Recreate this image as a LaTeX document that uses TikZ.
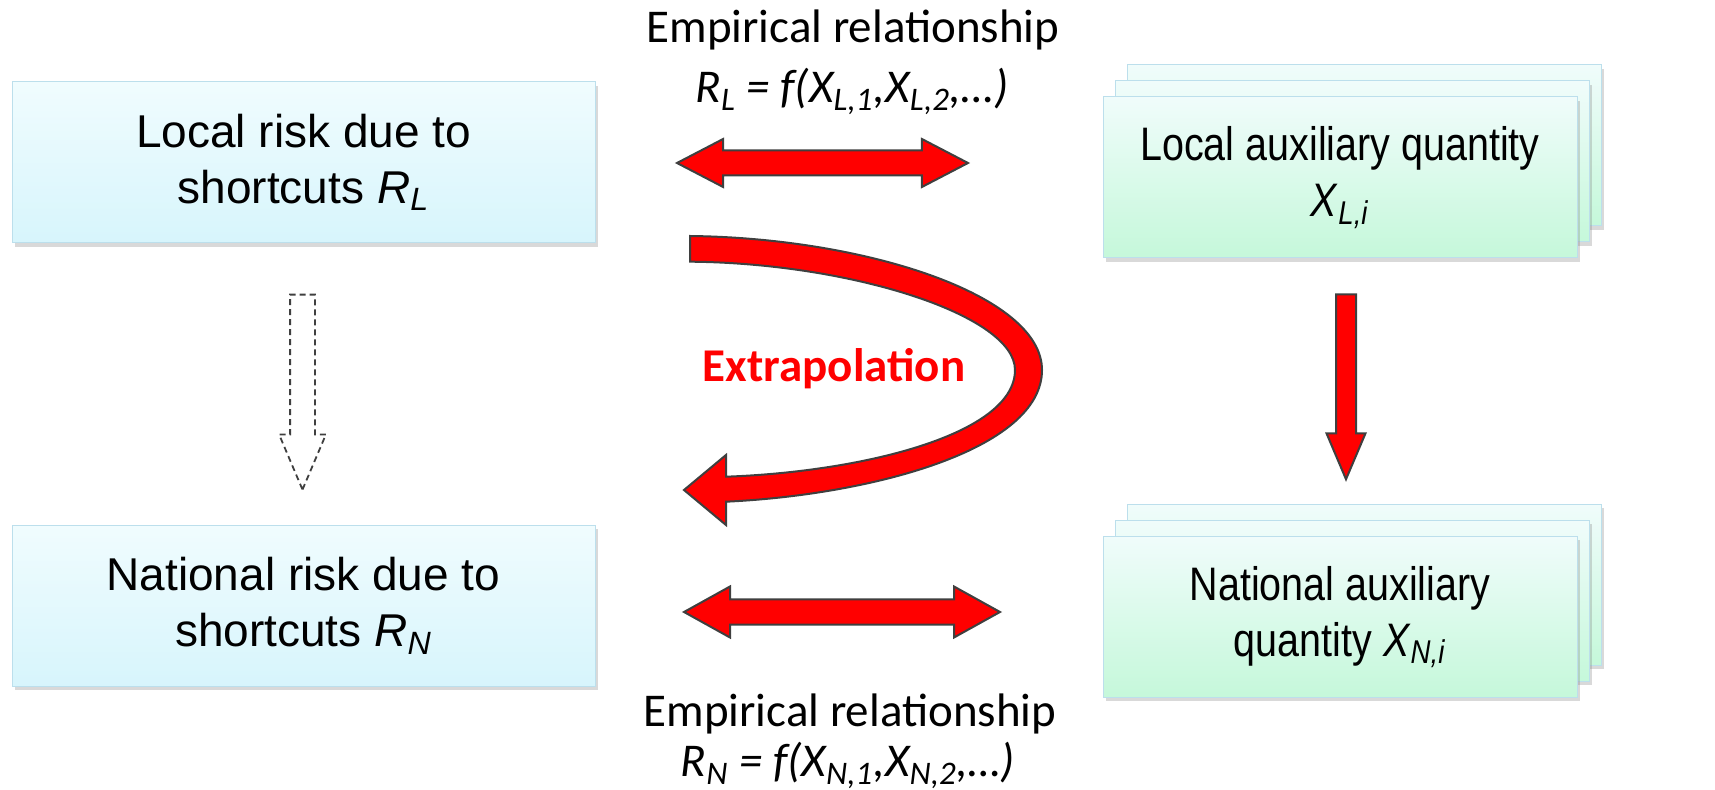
\documentclass[tikz,border=0pt]{standalone}
\usepackage{fontspec}
\setmainfont{Liberation Sans}
\newfontfamily\calibri{Carlito}
\newfontfamily\narrowsans{Liberation Sans}[FakeStretch=0.84]
\usepackage{tikz}
\usetikzlibrary{shapes.arrows,shadows}

\definecolor{boxline}{HTML}{BCDFEC}
\definecolor{cyantop}{HTML}{F0FCFE}
\definecolor{cyanbot}{HTML}{D7F5FC}
\definecolor{greentop}{HTML}{F0FCFB}
\definecolor{greenbot}{HTML}{C5F8DA}
\definecolor{arrowline}{HTML}{3F3F3F}

\tikzset{
  riskbox/.style={draw=boxline, line width=0.5pt, top color=cyantop, bottom color=cyanbot,
    minimum width=291.5pt, minimum height=80.5pt, align=center, inner sep=0pt,
    font=\fontsize{23}{28}\selectfont,
    drop shadow={shadow xshift=1.5pt, shadow yshift=-2pt, opacity=0.3}},
  auxbox/.style={riskbox, top color=greentop, bottom color=greenbot, minimum width=237pt,
    font=\narrowsans\fontsize{23.5}{28}\selectfont},
  blockarrow/.style={fill=red, draw=arrowline, line width=1pt, inner xsep=0pt},
  twoway/.style={blockarrow, double arrow},
  oneway/.style={blockarrow, single arrow},
  ghostarrow/.style={single arrow, draw=arrowline, fill=white,
    dash pattern=on 3pt off 2pt, line width=0.9pt, inner xsep=0pt},
  empfont/.style={font=\calibri\fontsize{23.5}{30}\selectfont, inner sep=0pt}
}

\begin{document}
\begin{tikzpicture}[x=0.5pt,y=-0.5pt]
    \useasboundingbox (0,0) rectangle (1715,790);

    % risk boxes
    \node[riskbox] (riskL) at (303.5,162.5) {Local risk due to\\shortcuts \textit{R}\textsubscript{\textit{L}}};
    \node[riskbox] (riskN) at (303.5,606) {National risk due to\\shortcuts \textit{R}\textsubscript{\textit{N}}};

    % auxiliary boxes, stacked
    \coordinate (auxLc) at (1340,177.5);
    \coordinate (auxNc) at (1340,617);
    \foreach \k in {2,1} {
        \node[auxbox, xshift=\k*6pt, yshift=\k*8pt] at (auxLc) {};
        \node[auxbox, xshift=\k*6pt, yshift=\k*8pt] at (auxNc) {};
    }
    \node[auxbox] (auxL) at (auxLc) {Local auxiliary quantity\\\textit{X}\textsubscript{\textit{L,i}}};
    \node[auxbox] (auxN) at (auxNc) {National auxiliary\\quantity \textit{X}\textsubscript{\textit{N,i}}};

    % empirical relationships
    \node[twoway, minimum height=145.5pt, inner ysep=5.75pt, double arrow head extend=5.75pt, double arrow tip angle=55] (relL) at (822.5,163) {};
    \node[twoway, minimum height=158pt, inner ysep=5.85pt, double arrow head extend=6.4pt, double arrow tip angle=58] (relN) at (842,612) {};

    \node[empfont, anchor=base] (empL) at (853,43) {Empirical relationship};
    \node[empfont, anchor=base, font=\calibri\itshape\fontsize{23.5}{30}\selectfont] (eqL) at (852,103)
        {R\textsubscript{L} = f(X\textsubscript{L,1},X\textsubscript{L,2},…)};
    \node[empfont, anchor=base] (empN) at (850,727) {Empirical relationship};
    \node[empfont, anchor=base, font=\calibri\itshape\fontsize{23.5}{30}\selectfont] (eqN) at (848,777)
        {R\textsubscript{N} = f(X\textsubscript{N,1},X\textsubscript{N,2},…)};

    % vertical arrows
    \node[oneway, rotate=-90, minimum height=92.5pt, inner ysep=4.5pt, single arrow head extend=4.75pt, single arrow tip angle=46] (down) at (1346,375) {};
    \node[ghostarrow, rotate=-90, minimum height=97.5pt, inner ysep=5.75pt, single arrow head extend=5.5pt, single arrow tip angle=46] (guess) at (302.5,377.5) {};

    % extrapolation
    \draw[blockarrow] (690,236) .. controls (865,238) and (1042,295) .. (1042,370)
        .. controls (1042,450) and (870,495) .. (726,501.7) -- (726,525) -- (684,490) -- (726,455)
        -- (726,476.7) .. controls (860,472) and (1015,435) .. (1015,370)
        .. controls (1015,315) and (850,263) .. (690,261.7) -- cycle;
    \node[font=\calibri\bfseries\fontsize{23.5}{28}\selectfont, text=red, inner sep=0pt, anchor=base] (extra) at (834,381.7) {Extrapolation};
\end{tikzpicture}
\end{document}
